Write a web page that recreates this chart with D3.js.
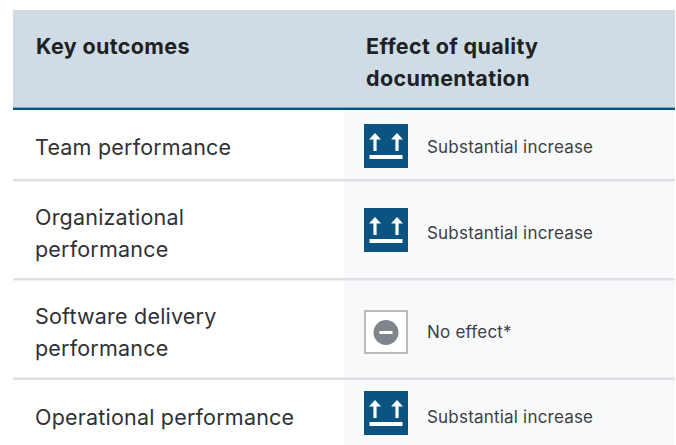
<!DOCTYPE html>
<html>
<head>
<meta charset="utf-8">
<script src="https://cdn.jsdelivr.net/npm/d3@7"></script>
<style>
html, body { margin: 0; padding: 0; background: #fff; overflow: hidden; }
text { font-family: "Inter", sans-serif; }
</style>
</head>
<body>
<div id="my_dataviz"></div>
<script>
// table content
var headers = [["Key outcomes"], ["Effect of quality", "documentation"]];
var outcomes = [["Team performance"], ["Organizational", "performance"], ["Software delivery", "performance"], ["Operational performance"]];
var effects = ["Substantial increase", "Substantial increase", "No effect*", "Substantial increase"];

// layout, row by row
var rowIndex = d3.range(outcomes.length);
var rowMid = d3.scaleOrdinal().domain(rowIndex).range([146, 230, 332, 413]);
var outcomeBase = d3.scaleOrdinal().domain(rowIndex).range([155, 225, 324, 425]);
var effectBase = d3.scaleOrdinal().domain(rowIndex).range([153, 239, 338, 423]);
var separators = [180, 279, 378.5];

var width = 676, height = 445;
var left = 13, split = 344, right = 675;
var textLeft = 36, effectLeft = 366, iconLeft = 364, iconSize = 44, labelLeft = 427;

var fillOf = d3.scaleOrdinal().domain(["Substantial increase", "No effect*"]).range(["#0b5380", "#ffffff"]);
var strokeOf = d3.scaleOrdinal().domain(["Substantial increase", "No effect*"]).range(["none", "#b9bbbd"]);

var svg = d3.select("#my_dataviz")
    .append("svg")
    .attr("width", width)
    .attr("height", height)
    .style("display", "block");

// backgrounds
svg.append("rect").attr("x", split).attr("y", 107).attr("width", right - split).attr("height", height - 107).attr("fill", "#f8f9fb");
svg.append("rect").attr("x", left).attr("y", 10).attr("width", right - left).attr("height", 97).attr("fill", "#cfdce5");
svg.append("rect").attr("x", left).attr("y", 107.5).attr("width", right - left).attr("height", 2.5).attr("fill", "#0b5380");

svg.selectAll(".sep")
    .data(separators)
    .enter()
    .append("rect")
    .attr("class", "sep")
    .attr("x", left)
    .attr("y", function (d) { return d - 1; })
    .attr("width", right - left)
    .attr("height", 2.5)
    .attr("fill", "#dfe1e5");

// headers
svg.selectAll(".head")
    .data(headers)
    .enter()
    .append("text")
    .attr("class", "head")
    .attr("font-size", 21.5)
    .attr("font-weight", 700)
    .attr("letter-spacing", 0.35)
    .attr("fill", "#202124")
    .each(function (lines, i) {
        d3.select(this).selectAll("tspan")
            .data(lines)
            .enter()
            .append("tspan")
            .attr("x", i == 0 ? textLeft : effectLeft)
            .attr("y", function (d, j) { return 53.5 + j * 32.5; })
            .text(function (d) { return d; });
    });

// rows
var rows = svg.selectAll(".row")
    .data(rowIndex)
    .enter()
    .append("g")
    .attr("class", "row");

rows.append("text")
    .attr("font-size", 21.5)
    .attr("letter-spacing", 0.2)
    .attr("fill", "#303134")
    .each(function (r) {
        d3.select(this).selectAll("tspan")
            .data(outcomes[r])
            .enter()
            .append("tspan")
            .attr("x", textLeft - 1)
            .attr("y", function (d, j) { return outcomeBase(r) + j * 32; })
            .text(function (d) { return d; });
    });

rows.append("text")
    .attr("x", labelLeft)
    .attr("y", function (r) { return effectBase(r); })
    .attr("font-size", 17)
    .attr("letter-spacing", 0.2)
    .attr("fill", "#3c4043")
    .text(function (r) { return effects[r]; });

// icons
rows.append("rect")
    .attr("x", function (r) { return iconLeft + (effects[r] == "No effect*" ? 1 : 0); })
    .attr("y", function (r) { return rowMid(r) - iconSize / 2 + (effects[r] == "No effect*" ? 1 : 0); })
    .attr("width", function (r) { return iconSize - (effects[r] == "No effect*" ? 2 : 0); })
    .attr("height", function (r) { return iconSize - (effects[r] == "No effect*" ? 2 : 0); })
    .attr("fill", function (r) { return fillOf(effects[r]); })
    .attr("stroke", function (r) { return strokeOf(effects[r]); })
    .attr("stroke-width", 2);

rows.filter(function (r) { return effects[r] != "No effect*"; })
    .append("path")
    .attr("transform", function (r) { return "translate(" + iconLeft + "," + (rowMid(r) - iconSize / 2) + ")"; })
    .attr("fill", "#ffffff")
    .attr("d", "M5.5 31h33v4h-33z"
        + "M11 9l6 6.5h-4.4V27h-3.2V15.5H5z"
        + "M33 9l6 6.5h-4.4V27h-3.2V15.5H27z");

var minus = rows.filter(function (r) { return effects[r] == "No effect*"; });
minus.append("circle")
    .attr("cx", iconLeft + iconSize / 2)
    .attr("cy", function (r) { return rowMid(r) + 0.5; })
    .attr("r", 12.5)
    .attr("fill", "#7e868c");
minus.append("rect")
    .attr("x", iconLeft + iconSize / 2 - 6.5)
    .attr("y", function (r) { return rowMid(r) - 1; })
    .attr("width", 13)
    .attr("height", 3)
    .attr("fill", "#ffffff");
</script>
</body>
</html>
